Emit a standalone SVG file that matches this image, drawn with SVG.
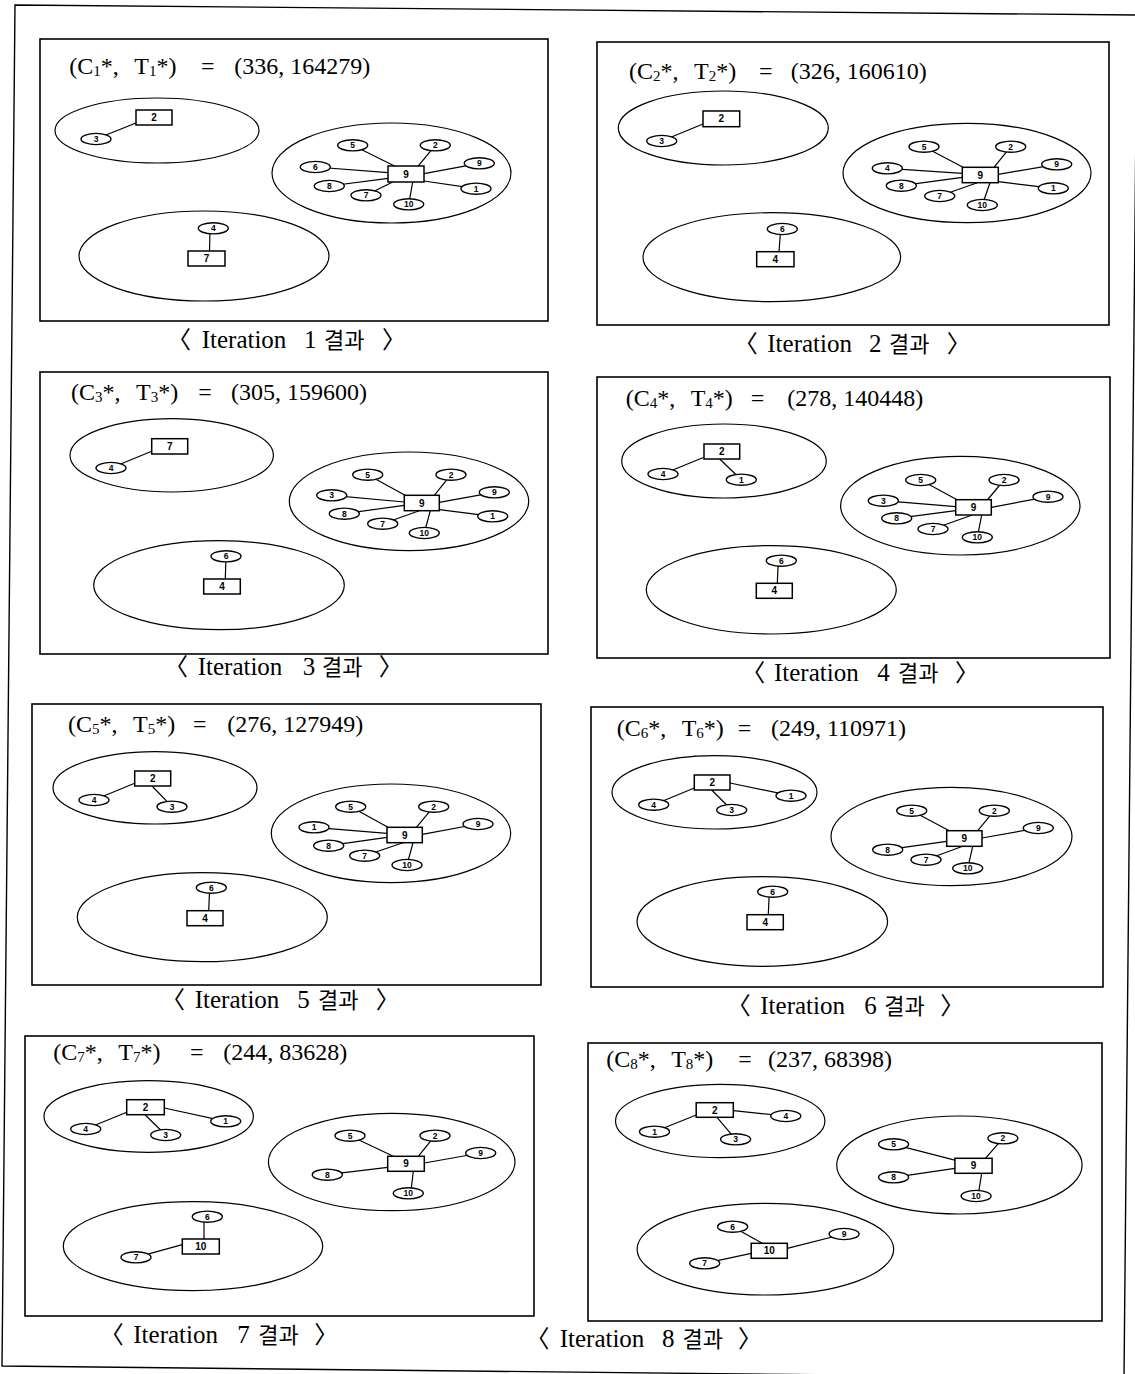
<svg xmlns="http://www.w3.org/2000/svg" width="1135" height="1374" viewBox="0 0 1135 1374">
<style>
.frame{fill:none;stroke:#000;stroke-width:1.6}
.outer{fill:none;stroke:#000;stroke-width:1.4}
.cluster{fill:none;stroke:#000;stroke-width:1.2}
.edges line{stroke:#000;stroke-width:1.2}
.cust ellipse{fill:#fff;stroke:#000;stroke-width:1.4}
.cust text{font-family:"Liberation Sans",Arial,sans-serif;font-weight:bold;font-size:8.5px;text-anchor:middle}
.dep rect{fill:#fff;stroke:#000;stroke-width:1.5}
.dep text{font-family:"Liberation Sans",Arial,sans-serif;font-weight:bold;font-size:10px;text-anchor:middle}
.t{font-family:"Liberation Serif","Times New Roman",serif;font-size:24px;fill:#000}
.s{font-size:15px}
.cap{font-family:"Liberation Serif","Noto Sans CJK KR",serif;font-size:25px;fill:#000}
.ko{font-family:"Noto Sans CJK KR",sans-serif;font-size:22px}
.br{font-family:"Noto Sans CJK KR",sans-serif;font-size:24px}
</style>
<polygon class="outer" points="15,5 1137,15 1124,1378 2,1366"/>

<!-- ============ Panel 1 ============ -->
<g id="panel1">
<rect class="frame" x="40" y="39" width="508" height="282"/>
<text class="t" y="74"><tspan x="69.3">(C</tspan><tspan class="s" dy="2">1</tspan><tspan dy="-2">*, </tspan><tspan x="134.3">T</tspan><tspan class="s" dy="2">1</tspan><tspan dy="-2">*)</tspan> <tspan x="201">=</tspan> <tspan x="234.3">(336, 164279)</tspan></text>
<text class="cap" y="347.5"><tspan class="br" x="167">〈</tspan> <tspan x="201.7">Iteration</tspan> <tspan x="304">1</tspan> <tspan class="ko" x="324">결과</tspan> <tspan class="br" x="382">〉</tspan></text>
<g id="p1-clA"><ellipse class="cluster" cx="157" cy="130.5" rx="102" ry="32.5"/></g>
<g id="p1-clB"><ellipse class="cluster" cx="391.5" cy="173" rx="119.5" ry="50"/></g>
<g id="p1-clC"><ellipse class="cluster" cx="204" cy="256" rx="125" ry="45"/></g>
<g id="p1-edges" class="edges">
<line x1="96" y1="139" x2="136" y2="123"/>
<line x1="352.7" y1="145.3" x2="396" y2="166.7"/>
<line x1="435.3" y1="145.3" x2="417.7" y2="166.7"/>
<line x1="479.3" y1="163.3" x2="424" y2="173.7"/>
<line x1="476" y1="188.7" x2="424" y2="181"/>
<line x1="408.7" y1="204.3" x2="412.7" y2="182"/>
<line x1="366" y1="195.3" x2="392.7" y2="182"/>
<line x1="329.3" y1="186" x2="388" y2="178.3"/>
<line x1="315.3" y1="167" x2="388" y2="172.7"/>
<line x1="210" y1="228" x2="209.5" y2="251"/>
</g>
<g id="p1-d2" class="dep"><rect x="136" y="110" width="36" height="15"/><text x="154" y="121">2</text></g>
<g id="p1-d9" class="dep"><rect x="388" y="166" width="36" height="16"/><text x="406" y="177.5">9</text></g>
<g id="p1-d7" class="dep"><rect x="188" y="251" width="37" height="15"/><text x="206.5" y="262">7</text></g>
<g id="p1-n3" class="cust"><ellipse cx="96" cy="139" rx="15" ry="5.6"/><text x="96" y="142">3</text></g>
<g id="p1-n5" class="cust"><ellipse cx="352.7" cy="145.3" rx="15" ry="5.6"/><text x="352.7" y="148.3">5</text></g>
<g id="p1-n2" class="cust"><ellipse cx="435.3" cy="145.3" rx="15" ry="5.6"/><text x="435.3" y="148.3">2</text></g>
<g id="p1-n9" class="cust"><ellipse cx="479.3" cy="163.3" rx="15" ry="5.6"/><text x="479.3" y="166.3">9</text></g>
<g id="p1-n6" class="cust"><ellipse cx="315.3" cy="167" rx="15" ry="5.6"/><text x="315.3" y="170">6</text></g>
<g id="p1-n8" class="cust"><ellipse cx="329.3" cy="186" rx="15" ry="5.6"/><text x="329.3" y="189">8</text></g>
<g id="p1-n7" class="cust"><ellipse cx="366" cy="195.3" rx="15" ry="5.6"/><text x="366" y="198.3">7</text></g>
<g id="p1-n10" class="cust"><ellipse cx="408.7" cy="204.3" rx="15" ry="5.6"/><text x="408.7" y="207.3">10</text></g>
<g id="p1-n1" class="cust"><ellipse cx="476" cy="188.7" rx="15" ry="5.6"/><text x="476" y="191.7">1</text></g>
<g id="p1-n4" class="cust"><ellipse cx="213.3" cy="228.3" rx="15" ry="5.6"/><text x="213.3" y="231.3">4</text></g>
</g>

<!-- ============ Panel 2 ============ -->
<g id="panel2">
<rect class="frame" x="597" y="42" width="512" height="283"/>
<text class="t" y="79.3"><tspan x="629">(C</tspan><tspan class="s" dy="2">2</tspan><tspan dy="-2">*, </tspan><tspan x="694">T</tspan><tspan class="s" dy="2">2</tspan><tspan dy="-2">*)</tspan> <tspan x="759">=</tspan> <tspan x="790.7">(326, 160610)</tspan></text>
<text class="cap" y="351.5"><tspan class="br" x="733.7">〈</tspan> <tspan x="767.3">Iteration</tspan> <tspan x="869">2</tspan> <tspan class="ko" x="889">결과</tspan> <tspan class="br" x="946.7">〉</tspan></text>
<g id="p2-clA"><ellipse class="cluster" cx="723.3" cy="128" rx="105" ry="37"/></g>
<g id="p2-clB"><ellipse class="cluster" cx="967" cy="173" rx="124" ry="49.7"/></g>
<g id="p2-clC"><ellipse class="cluster" cx="771.8" cy="257.2" rx="128.8" ry="44.5"/></g>
<g id="p2-edges" class="edges">
<line x1="661.7" y1="141" x2="703" y2="124"/>
<line x1="924" y1="146.7" x2="964" y2="167.7"/>
<line x1="1010.7" y1="146.7" x2="994" y2="167.3"/>
<line x1="1056.7" y1="164.3" x2="998.3" y2="174.3"/>
<line x1="1053.3" y1="188.3" x2="998.3" y2="181.7"/>
<line x1="982.3" y1="205" x2="990" y2="182.7"/>
<line x1="939.7" y1="196" x2="977.3" y2="182.7"/>
<line x1="901.3" y1="185.7" x2="962.3" y2="177.3"/>
<line x1="887.3" y1="168.3" x2="962.3" y2="173.3"/>
<line x1="780.7" y1="229" x2="779" y2="251.7"/>
</g>
<g id="p2-d2" class="dep"><rect x="703" y="111" width="36.7" height="15.7"/><text x="721.3" y="122.3">2</text></g>
<g id="p2-d9" class="dep"><rect x="962.3" y="167.3" width="36" height="15.4"/><text x="980.3" y="178.5">9</text></g>
<g id="p2-d4" class="dep"><rect x="756.7" y="251.7" width="37.3" height="15"/><text x="775.3" y="262.7">4</text></g>
<g id="p2-n3" class="cust"><ellipse cx="661.7" cy="141" rx="15" ry="5.6"/><text x="661.7" y="144">3</text></g>
<g id="p2-n5" class="cust"><ellipse cx="924" cy="146.7" rx="15" ry="5.6"/><text x="924" y="149.7">5</text></g>
<g id="p2-n2" class="cust"><ellipse cx="1010.7" cy="146.7" rx="15" ry="5.6"/><text x="1010.7" y="149.7">2</text></g>
<g id="p2-n9" class="cust"><ellipse cx="1056.7" cy="164.3" rx="15" ry="5.6"/><text x="1056.7" y="167.3">9</text></g>
<g id="p2-n4" class="cust"><ellipse cx="887.3" cy="168.3" rx="15" ry="5.6"/><text x="887.3" y="171.3">4</text></g>
<g id="p2-n8" class="cust"><ellipse cx="901.3" cy="185.7" rx="15" ry="5.6"/><text x="901.3" y="188.7">8</text></g>
<g id="p2-n7" class="cust"><ellipse cx="939.7" cy="196" rx="15" ry="5.6"/><text x="939.7" y="199">7</text></g>
<g id="p2-n10" class="cust"><ellipse cx="982.3" cy="205" rx="15" ry="5.6"/><text x="982.3" y="208">10</text></g>
<g id="p2-n1" class="cust"><ellipse cx="1053.3" cy="188.3" rx="15" ry="5.6"/><text x="1053.3" y="191.3">1</text></g>
<g id="p2-n6" class="cust"><ellipse cx="782.3" cy="229" rx="15" ry="5.6"/><text x="782.3" y="232">6</text></g>
</g>

<!-- ============ Panel 3 ============ -->
<g id="panel3">
<rect class="frame" x="40" y="372" width="508" height="282"/>
<text class="t" y="399.7"><tspan x="71">(C</tspan><tspan class="s" dy="2">3</tspan><tspan dy="-2">*, </tspan><tspan x="136">T</tspan><tspan class="s" dy="2">3</tspan><tspan dy="-2">*)</tspan> <tspan x="198.3">=</tspan> <tspan x="231">(305, 159600)</tspan></text>
<text class="cap" y="674.5"><tspan class="br" x="164">〈</tspan> <tspan x="197.7">Iteration</tspan> <tspan x="302.7">3</tspan> <tspan class="ko" x="322">결과</tspan> <tspan class="br" x="378.7">〉</tspan></text>
<g id="p3-clA"><ellipse class="cluster" cx="171.7" cy="455.3" rx="101.7" ry="36.7"/></g>
<g id="p3-clB"><ellipse class="cluster" cx="409" cy="501.3" rx="119.7" ry="49.3"/></g>
<g id="p3-clC"><ellipse class="cluster" cx="219" cy="585.2" rx="125.3" ry="44.5"/></g>
<g id="p3-edges" class="edges">
<line x1="111" y1="468" x2="151.7" y2="451.3"/>
<line x1="367.7" y1="474.7" x2="406" y2="495.7"/>
<line x1="451" y1="474.7" x2="434.3" y2="495.3"/>
<line x1="494.3" y1="492.3" x2="439.3" y2="502.3"/>
<line x1="492.7" y1="516.3" x2="439.3" y2="509.7"/>
<line x1="424.3" y1="533" x2="430.3" y2="510.7"/>
<line x1="382.7" y1="523.7" x2="419.3" y2="510.7"/>
<line x1="344.3" y1="513.7" x2="404.3" y2="505.3"/>
<line x1="331.7" y1="495.3" x2="404.3" y2="502"/>
<line x1="226" y1="556.3" x2="225.3" y2="579"/>
</g>
<g id="p3-d7" class="dep"><rect x="151.7" y="438.7" width="36" height="15.3"/><text x="169.7" y="449.9">7</text></g>
<g id="p3-d9" class="dep"><rect x="404.3" y="495.3" width="35" height="15.4"/><text x="421.8" y="506.5">9</text></g>
<g id="p3-d4" class="dep"><rect x="203.7" y="579" width="36.6" height="15"/><text x="222" y="590">4</text></g>
<g id="p3-n4" class="cust"><ellipse cx="111" cy="468" rx="15" ry="5.6"/><text x="111" y="471">4</text></g>
<g id="p3-n5" class="cust"><ellipse cx="367.7" cy="474.7" rx="15" ry="5.6"/><text x="367.7" y="477.7">5</text></g>
<g id="p3-n2" class="cust"><ellipse cx="451" cy="474.7" rx="15" ry="5.6"/><text x="451" y="477.7">2</text></g>
<g id="p3-n9" class="cust"><ellipse cx="494.3" cy="492.3" rx="15" ry="5.6"/><text x="494.3" y="495.3">9</text></g>
<g id="p3-n3" class="cust"><ellipse cx="331.7" cy="495.3" rx="15" ry="5.6"/><text x="331.7" y="498.3">3</text></g>
<g id="p3-n8" class="cust"><ellipse cx="344.3" cy="513.7" rx="15" ry="5.6"/><text x="344.3" y="516.7">8</text></g>
<g id="p3-n7" class="cust"><ellipse cx="382.7" cy="523.7" rx="15" ry="5.6"/><text x="382.7" y="526.7">7</text></g>
<g id="p3-n10" class="cust"><ellipse cx="424.3" cy="533" rx="15" ry="5.6"/><text x="424.3" y="536">10</text></g>
<g id="p3-n1" class="cust"><ellipse cx="492.7" cy="516.3" rx="15" ry="5.6"/><text x="492.7" y="519.3">1</text></g>
<g id="p3-n6" class="cust"><ellipse cx="226" cy="556.3" rx="15" ry="5.6"/><text x="226" y="559.3">6</text></g>
</g>

<!-- ============ Panel 4 ============ -->
<g id="panel4">
<rect class="frame" x="597" y="377" width="513" height="281"/>
<text class="t" y="405.7"><tspan x="625.7">(C</tspan><tspan class="s" dy="2">4</tspan><tspan dy="-2">*, </tspan><tspan x="690.7">T</tspan><tspan class="s" dy="2">4</tspan><tspan dy="-2">*)</tspan> <tspan x="750.7">=</tspan> <tspan x="787.3">(278, 140448)</tspan></text>
<text class="cap" y="680.5"><tspan class="br" x="741.3">〈</tspan> <tspan x="774">Iteration</tspan> <tspan x="877.3">4</tspan> <tspan class="ko" x="898">결과</tspan> <tspan class="br" x="955">〉</tspan></text>
<g id="p4-clA"><ellipse class="cluster" cx="724" cy="461" rx="102.3" ry="37"/></g>
<g id="p4-clB"><ellipse class="cluster" cx="960.3" cy="505.7" rx="119.7" ry="49.3"/></g>
<g id="p4-clC"><ellipse class="cluster" cx="771.3" cy="589.8" rx="125" ry="44.2"/></g>
<g id="p4-edges" class="edges">
<line x1="663" y1="474" x2="704" y2="457.3"/>
<line x1="741.3" y1="479.7" x2="719.7" y2="459"/>
<line x1="920.7" y1="480" x2="958" y2="500.3"/>
<line x1="1004" y1="480" x2="987.3" y2="500"/>
<line x1="1048" y1="496.7" x2="991.3" y2="507.3"/>
<line x1="977.3" y1="537.3" x2="981.7" y2="515"/>
<line x1="933" y1="529" x2="972.3" y2="515"/>
<line x1="896.7" y1="518.3" x2="955.7" y2="510.7"/>
<line x1="883.3" y1="500.7" x2="955.7" y2="506.7"/>
<line x1="778.3" y1="560.7" x2="777.3" y2="583.3"/>
</g>
<g id="p4-d2" class="dep"><rect x="704" y="444" width="35.7" height="15"/><text x="721.8" y="455">2</text></g>
<g id="p4-d9" class="dep"><rect x="955.7" y="499.7" width="35.6" height="15.3"/><text x="973.5" y="510.9">9</text></g>
<g id="p4-d4" class="dep"><rect x="756.3" y="583.3" width="36" height="15"/><text x="774.3" y="594.3">4</text></g>
<g id="p4-n4" class="cust"><ellipse cx="663" cy="474" rx="15" ry="5.6"/><text x="663" y="477">4</text></g>
<g id="p4-n1" class="cust"><ellipse cx="741.3" cy="479.7" rx="15" ry="5.6"/><text x="741.3" y="482.7">1</text></g>
<g id="p4-n5" class="cust"><ellipse cx="920.7" cy="480" rx="15" ry="5.6"/><text x="920.7" y="483">5</text></g>
<g id="p4-n2" class="cust"><ellipse cx="1004" cy="480" rx="15" ry="5.6"/><text x="1004" y="483">2</text></g>
<g id="p4-n9" class="cust"><ellipse cx="1048" cy="496.7" rx="15" ry="5.6"/><text x="1048" y="499.7">9</text></g>
<g id="p4-n3" class="cust"><ellipse cx="883.3" cy="500.7" rx="15" ry="5.6"/><text x="883.3" y="503.7">3</text></g>
<g id="p4-n8" class="cust"><ellipse cx="896.7" cy="518.3" rx="15" ry="5.6"/><text x="896.7" y="521.3">8</text></g>
<g id="p4-n7" class="cust"><ellipse cx="933" cy="529" rx="15" ry="5.6"/><text x="933" y="532">7</text></g>
<g id="p4-n10" class="cust"><ellipse cx="977.3" cy="537.3" rx="15" ry="5.6"/><text x="977.3" y="540.3">10</text></g>
<g id="p4-n6" class="cust"><ellipse cx="781.3" cy="560.7" rx="15" ry="5.6"/><text x="781.3" y="563.7">6</text></g>
</g>

<!-- ============ Panel 5 ============ -->
<g id="panel5">
<rect class="frame" x="32" y="704" width="509" height="281"/>
<text class="t" y="731.7"><tspan x="68">(C</tspan><tspan class="s" dy="2">5</tspan><tspan dy="-2">*, </tspan><tspan x="133">T</tspan><tspan class="s" dy="2">5</tspan><tspan dy="-2">*)</tspan> <tspan x="193">=</tspan> <tspan x="227.3">(276, 127949)</tspan></text>
<text class="cap" y="1008"><tspan class="br" x="161">〈</tspan> <tspan x="194.7">Iteration</tspan> <tspan x="297.3">5</tspan> <tspan class="ko" x="318">결과</tspan> <tspan class="br" x="375.7">〉</tspan></text>
<g id="p5-clA"><ellipse class="cluster" cx="155" cy="787.8" rx="102" ry="36.2"/></g>
<g id="p5-clB"><ellipse class="cluster" cx="391" cy="833.3" rx="119.7" ry="49.3"/></g>
<g id="p5-clC"><ellipse class="cluster" cx="202.3" cy="917.2" rx="125" ry="44.5"/></g>
<g id="p5-edges" class="edges">
<line x1="94" y1="800" x2="134.7" y2="783.3"/>
<line x1="172" y1="806.7" x2="152" y2="786"/>
<line x1="350.7" y1="806.7" x2="388" y2="827.3"/>
<line x1="433.7" y1="806.7" x2="416.3" y2="827.3"/>
<line x1="478" y1="824" x2="422.3" y2="834.3"/>
<line x1="407" y1="865" x2="413" y2="842.7"/>
<line x1="364.7" y1="855.7" x2="403" y2="842.7"/>
<line x1="328.7" y1="845.7" x2="387" y2="837.3"/>
<line x1="314" y1="827.3" x2="387" y2="833.3"/>
<line x1="209.7" y1="887.7" x2="208.7" y2="910.7"/>
</g>
<g id="p5-d2" class="dep"><rect x="134.7" y="771" width="36" height="15"/><text x="152.7" y="782">2</text></g>
<g id="p5-d9" class="dep"><rect x="387" y="827.3" width="35.3" height="15.4"/><text x="404.7" y="838.5">9</text></g>
<g id="p5-d4" class="dep"><rect x="187" y="910.7" width="36" height="15"/><text x="205" y="921.7">4</text></g>
<g id="p5-n4" class="cust"><ellipse cx="94" cy="800" rx="15" ry="5.6"/><text x="94" y="803">4</text></g>
<g id="p5-n3" class="cust"><ellipse cx="172" cy="806.7" rx="15" ry="5.6"/><text x="172" y="809.7">3</text></g>
<g id="p5-n5" class="cust"><ellipse cx="350.7" cy="806.7" rx="15" ry="5.6"/><text x="350.7" y="809.7">5</text></g>
<g id="p5-n2" class="cust"><ellipse cx="433.7" cy="806.7" rx="15" ry="5.6"/><text x="433.7" y="809.7">2</text></g>
<g id="p5-n9" class="cust"><ellipse cx="478" cy="824" rx="15" ry="5.6"/><text x="478" y="827">9</text></g>
<g id="p5-n1" class="cust"><ellipse cx="314" cy="827.3" rx="15" ry="5.6"/><text x="314" y="830.3">1</text></g>
<g id="p5-n8" class="cust"><ellipse cx="328.7" cy="845.7" rx="15" ry="5.6"/><text x="328.7" y="848.7">8</text></g>
<g id="p5-n7" class="cust"><ellipse cx="364.7" cy="855.7" rx="15" ry="5.6"/><text x="364.7" y="858.7">7</text></g>
<g id="p5-n10" class="cust"><ellipse cx="407" cy="865" rx="15" ry="5.6"/><text x="407" y="868">10</text></g>
<g id="p5-n6" class="cust"><ellipse cx="211.3" cy="887.7" rx="15" ry="5.6"/><text x="211.3" y="890.7">6</text></g>
</g>

<!-- ============ Panel 6 ============ -->
<g id="panel6">
<rect class="frame" x="591" y="707" width="512" height="280"/>
<text class="t" y="735.7"><tspan x="616.7">(C</tspan><tspan class="s" dy="2">6</tspan><tspan dy="-2">*, </tspan><tspan x="681.7">T</tspan><tspan class="s" dy="2">6</tspan><tspan dy="-2">*)</tspan> <tspan x="737.7">=</tspan> <tspan x="771">(249, 110971)</tspan></text>
<text class="cap" y="1014"><tspan class="br" x="726.7">〈</tspan> <tspan x="760.3">Iteration</tspan> <tspan x="864.3">6</tspan> <tspan class="ko" x="884.3">결과</tspan> <tspan class="br" x="940.3">〉</tspan></text>
<g id="p6-clA"><ellipse class="cluster" cx="714.5" cy="792.3" rx="102.5" ry="36.7"/></g>
<g id="p6-clB"><ellipse class="cluster" cx="951.5" cy="836.5" rx="120.5" ry="49.2"/></g>
<g id="p6-clC"><ellipse class="cluster" cx="762.3" cy="921.5" rx="125.3" ry="44.8"/></g>
<g id="p6-edges" class="edges">
<line x1="653.7" y1="804.7" x2="694.3" y2="788"/>
<line x1="731.7" y1="810" x2="711.7" y2="790"/>
<line x1="791" y1="795.7" x2="730" y2="783"/>
<line x1="911.7" y1="810.7" x2="949.3" y2="830.7"/>
<line x1="994.3" y1="810.7" x2="977.7" y2="830.7"/>
<line x1="1038.3" y1="828" x2="982" y2="838"/>
<line x1="967.7" y1="868.3" x2="972.7" y2="846.3"/>
<line x1="926" y1="859.7" x2="962.7" y2="846.3"/>
<line x1="887.7" y1="849.7" x2="946.7" y2="841.3"/>
<line x1="769.3" y1="891.7" x2="768.3" y2="914.7"/>
</g>
<g id="p6-d2" class="dep"><rect x="694.3" y="775" width="35.7" height="15"/><text x="712.2" y="786">2</text></g>
<g id="p6-d9" class="dep"><rect x="946.7" y="830.7" width="35.3" height="15.6"/><text x="964.3" y="842">9</text></g>
<g id="p6-d4" class="dep"><rect x="747" y="914.7" width="36.3" height="15"/><text x="765.2" y="925.7">4</text></g>
<g id="p6-n4" class="cust"><ellipse cx="653.7" cy="804.7" rx="15" ry="5.6"/><text x="653.7" y="807.7">4</text></g>
<g id="p6-n3" class="cust"><ellipse cx="731.7" cy="810" rx="15" ry="5.6"/><text x="731.7" y="813">3</text></g>
<g id="p6-n1" class="cust"><ellipse cx="791" cy="795.7" rx="15" ry="5.6"/><text x="791" y="798.7">1</text></g>
<g id="p6-n5" class="cust"><ellipse cx="911.7" cy="810.7" rx="15" ry="5.6"/><text x="911.7" y="813.7">5</text></g>
<g id="p6-n2" class="cust"><ellipse cx="994.3" cy="810.7" rx="15" ry="5.6"/><text x="994.3" y="813.7">2</text></g>
<g id="p6-n9" class="cust"><ellipse cx="1038.3" cy="828" rx="15" ry="5.6"/><text x="1038.3" y="831">9</text></g>
<g id="p6-n8" class="cust"><ellipse cx="887.7" cy="849.7" rx="15" ry="5.6"/><text x="887.7" y="852.7">8</text></g>
<g id="p6-n7" class="cust"><ellipse cx="926" cy="859.7" rx="15" ry="5.6"/><text x="926" y="862.7">7</text></g>
<g id="p6-n10" class="cust"><ellipse cx="967.7" cy="868.3" rx="15" ry="5.6"/><text x="967.7" y="871.3">10</text></g>
<g id="p6-n6" class="cust"><ellipse cx="772.7" cy="891.7" rx="15" ry="5.6"/><text x="772.7" y="894.7">6</text></g>
</g>

<!-- ============ Panel 7 ============ -->
<g id="panel7">
<rect class="frame" x="25" y="1036" width="509" height="280"/>
<text class="t" y="1060"><tspan x="53.3">(C</tspan><tspan class="s" dy="2">7</tspan><tspan dy="-2">*, </tspan><tspan x="118.3">T</tspan><tspan class="s" dy="2">7</tspan><tspan dy="-2">*)</tspan> <tspan x="190">=</tspan> <tspan x="223.3">(244, 83628)</tspan></text>
<text class="cap" y="1343"><tspan class="br" x="99.7">〈</tspan> <tspan x="133.3">Iteration</tspan> <tspan x="237.3">7</tspan> <tspan class="ko" x="258.3">결과</tspan> <tspan class="br" x="314.3">〉</tspan></text>
<g id="p7-clA"><ellipse class="cluster" cx="148.7" cy="1116.5" rx="104.7" ry="35.8"/></g>
<g id="p7-clB"><ellipse class="cluster" cx="391.7" cy="1162" rx="123.3" ry="48.7"/></g>
<g id="p7-clC"><ellipse class="cluster" cx="193" cy="1246.2" rx="129.7" ry="44.5"/></g>
<g id="p7-edges" class="edges">
<line x1="85.7" y1="1129" x2="126.7" y2="1112.3"/>
<line x1="165.7" y1="1135" x2="145" y2="1114.7"/>
<line x1="225.7" y1="1121.3" x2="164.3" y2="1108"/>
<line x1="350" y1="1135.7" x2="393.3" y2="1156.3"/>
<line x1="435" y1="1135.7" x2="418.3" y2="1156.3"/>
<line x1="480.7" y1="1153" x2="424.3" y2="1163"/>
<line x1="327.3" y1="1174.7" x2="387.7" y2="1167.3"/>
<line x1="410.7" y1="1193.3" x2="413.3" y2="1171.3"/>
<line x1="204" y1="1216.7" x2="204" y2="1239"/>
<line x1="136" y1="1257.3" x2="182.3" y2="1244.7"/>
</g>
<g id="p7-d2" class="dep"><rect x="126.7" y="1099.7" width="37.6" height="15"/><text x="145.5" y="1110.7">2</text></g>
<g id="p7-d9" class="dep"><rect x="387.7" y="1156.3" width="36.6" height="15"/><text x="406" y="1167.3">9</text></g>
<g id="p7-d10" class="dep"><rect x="182.3" y="1239" width="37" height="15"/><text x="200.8" y="1250">10</text></g>
<g id="p7-n4" class="cust"><ellipse cx="85.7" cy="1129" rx="15" ry="5.6"/><text x="85.7" y="1132">4</text></g>
<g id="p7-n3" class="cust"><ellipse cx="165.7" cy="1135" rx="15" ry="5.6"/><text x="165.7" y="1138">3</text></g>
<g id="p7-n1" class="cust"><ellipse cx="225.7" cy="1121.3" rx="15" ry="5.6"/><text x="225.7" y="1124.3">1</text></g>
<g id="p7-n5" class="cust"><ellipse cx="350" cy="1135.7" rx="15" ry="5.6"/><text x="350" y="1138.7">5</text></g>
<g id="p7-n2" class="cust"><ellipse cx="435" cy="1135.7" rx="15" ry="5.6"/><text x="435" y="1138.7">2</text></g>
<g id="p7-n9" class="cust"><ellipse cx="480.7" cy="1153" rx="15" ry="5.6"/><text x="480.7" y="1156">9</text></g>
<g id="p7-n8" class="cust"><ellipse cx="327.3" cy="1174.7" rx="15" ry="5.6"/><text x="327.3" y="1177.7">8</text></g>
<g id="p7-n10" class="cust"><ellipse cx="408.3" cy="1193.3" rx="15" ry="5.6"/><text x="408.3" y="1196.3">10</text></g>
<g id="p7-n6" class="cust"><ellipse cx="207.3" cy="1216.7" rx="15" ry="5.6"/><text x="207.3" y="1219.7">6</text></g>
<g id="p7-n7" class="cust"><ellipse cx="136" cy="1257.3" rx="15" ry="5.6"/><text x="136" y="1260.3">7</text></g>
</g>

<!-- ============ Panel 8 ============ -->
<g id="panel8">
<rect class="frame" x="588" y="1043" width="514" height="278"/>
<text class="t" y="1066.7"><tspan x="606.2">(C</tspan><tspan class="s" dy="2">8</tspan><tspan dy="-2">*, </tspan><tspan x="671.2">T</tspan><tspan class="s" dy="2">8</tspan><tspan dy="-2">*)</tspan> <tspan x="738.2">=</tspan> <tspan x="767.9">(237, 68398)</tspan></text>
<text class="cap" y="1346.5"><tspan class="br" x="525.4">〈</tspan> <tspan x="559.7">Iteration</tspan> <tspan x="662">8</tspan> <tspan class="ko" x="682.4">결과</tspan> <tspan class="br" x="738">〉</tspan></text>
<g id="p8-clA"><ellipse class="cluster" cx="720.2" cy="1121" rx="104.7" ry="36.7"/></g>
<g id="p8-clB"><ellipse class="cluster" cx="959.4" cy="1165" rx="122.7" ry="49"/></g>
<g id="p8-clC"><ellipse class="cluster" cx="765.4" cy="1249.2" rx="128.3" ry="45.8"/></g>
<g id="p8-edges" class="edges">
<line x1="654.5" y1="1131.7" x2="696.2" y2="1115"/>
<line x1="735.6" y1="1139.3" x2="717" y2="1117.3"/>
<line x1="785.8" y1="1116" x2="733.3" y2="1110.7"/>
<line x1="893.6" y1="1144.3" x2="956.8" y2="1160.7"/>
<line x1="1002.9" y1="1138.3" x2="985.4" y2="1158.3"/>
<line x1="893.6" y1="1177.3" x2="954.9" y2="1168.3"/>
<line x1="978" y1="1196" x2="981.7" y2="1173.3"/>
<line x1="732.6" y1="1226.7" x2="762.3" y2="1243.3"/>
<line x1="844.1" y1="1234" x2="787.3" y2="1248.3"/>
<line x1="704.7" y1="1263.3" x2="751.2" y2="1253.3"/>
</g>
<g id="p8-d2" class="dep"><rect x="696.2" y="1102.7" width="37.1" height="14.6"/><text x="714.8" y="1113.5">2</text></g>
<g id="p8-d9" class="dep"><rect x="954.9" y="1158.3" width="37.2" height="15"/><text x="973.5" y="1169.3">9</text></g>
<g id="p8-d10" class="dep"><rect x="751.2" y="1243.3" width="36.1" height="15"/><text x="769.3" y="1254.3">10</text></g>
<g id="p8-n1" class="cust"><ellipse cx="654.5" cy="1131.7" rx="15" ry="5.6"/><text x="654.5" y="1134.7">1</text></g>
<g id="p8-n3" class="cust"><ellipse cx="735.6" cy="1139.3" rx="15" ry="5.6"/><text x="735.6" y="1142.3">3</text></g>
<g id="p8-n4" class="cust"><ellipse cx="785.8" cy="1116" rx="15" ry="5.6"/><text x="785.8" y="1119">4</text></g>
<g id="p8-n5" class="cust"><ellipse cx="893.6" cy="1144.3" rx="15" ry="5.6"/><text x="893.6" y="1147.3">5</text></g>
<g id="p8-n2" class="cust"><ellipse cx="1002.9" cy="1138.3" rx="15" ry="5.6"/><text x="1002.9" y="1141.3">2</text></g>
<g id="p8-n8" class="cust"><ellipse cx="893.6" cy="1177.3" rx="15" ry="5.6"/><text x="893.6" y="1180.3">8</text></g>
<g id="p8-n10" class="cust"><ellipse cx="976.1" cy="1196" rx="15" ry="5.6"/><text x="976.1" y="1199">10</text></g>
<g id="p8-n6" class="cust"><ellipse cx="732.6" cy="1226.7" rx="15" ry="5.6"/><text x="732.6" y="1229.7">6</text></g>
<g id="p8-n9" class="cust"><ellipse cx="844.1" cy="1234" rx="15" ry="5.6"/><text x="844.1" y="1237">9</text></g>
<g id="p8-n7" class="cust"><ellipse cx="704.7" cy="1263.3" rx="15" ry="5.6"/><text x="704.7" y="1266.3">7</text></g>
</g>
</svg>
